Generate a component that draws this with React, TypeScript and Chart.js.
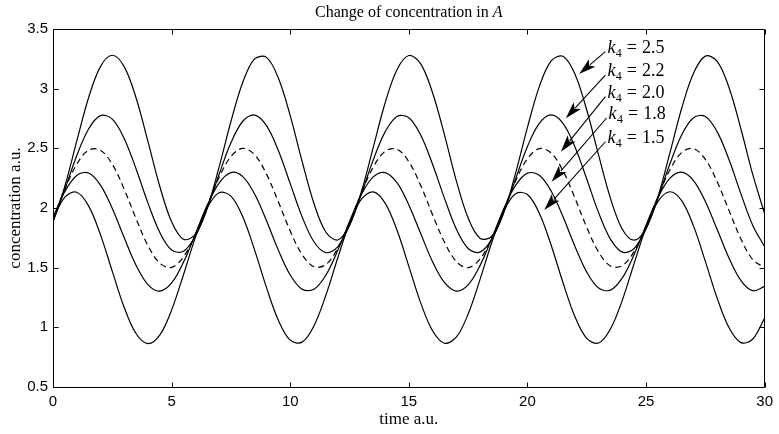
import React, { useEffect, useRef } from "react";
import { Chart, registerables } from "chart.js";

Chart.register(...registerables);

// time axis (a.u.)
const timeAxis = [
  0, 0.5, 1, 1.5, 2, 2.5, 3, 3.5, 4, 4.5, 5, 5.5, 6, 6.5, 7, 7.5, 8, 8.5, 9, 9.5,
  10, 10.5, 11, 11.5, 12, 12.5, 13, 13.5, 14, 14.5, 15, 15.5, 16, 16.5, 17, 17.5, 18, 18.5, 19, 19.5,
  20, 20.5, 21, 21.5, 22, 22.5, 23, 23.5, 24, 24.5, 25, 25.5, 26, 26.5, 27, 27.5, 28, 28.5, 29, 29.5, 30,
];

// concentration in A for each k4
const concK25 = [
  1.884, 2.182, 2.560, 2.924, 3.185, 3.280, 3.185, 2.924, 2.560, 2.182, 1.884, 1.738, 1.779, 1.998, 2.342, 2.725, 3.054, 3.249, 3.262, 3.089,
  2.774, 2.392, 2.038, 1.799, 1.732, 1.855, 2.136, 2.508, 2.880, 3.159, 3.278, 3.208, 2.966, 2.615, 2.230, 1.916, 1.747, 1.763, 1.961, 2.292,
  2.675, 3.017, 3.233, 3.271, 3.122, 2.821, 2.443, 2.081, 1.822, 1.730, 1.828, 2.092, 2.457, 2.834, 3.130, 3.273, 3.228, 3.008, 2.662, 2.279, 1.951,
];
const concK22 = [
  1.886, 2.156, 2.438, 2.662, 2.774, 2.745, 2.583, 2.329, 2.043, 1.796, 1.648, 1.637, 1.763, 1.997, 2.281, 2.546, 2.727, 2.779, 2.690, 2.481,
  2.204, 1.927, 1.717, 1.626, 1.675, 1.854, 2.118, 2.403, 2.638, 2.767, 2.757, 2.612, 2.366, 2.083, 1.824, 1.661, 1.630, 1.739, 1.962, 2.243,
  2.515, 2.709, 2.780, 2.709, 2.514, 2.243, 1.961, 1.739, 1.630, 1.661, 1.824, 2.080, 2.366, 2.612, 2.757, 2.767, 2.638, 2.404, 2.118, 1.854, 1.675,
];
const concK20 = [
  1.911, 2.158, 2.366, 2.485, 2.484, 2.366, 2.158, 1.911, 1.686, 1.538, 1.503, 1.590, 1.777, 2.019, 2.256, 2.431, 2.500, 2.447, 2.284, 2.052,
  1.807, 1.610, 1.508, 1.526, 1.661, 1.879, 2.126, 2.343, 2.475, 2.492, 2.388, 2.189, 1.944, 1.715, 1.552, 1.500, 1.572, 1.748, 1.986, 2.227,
  2.413, 2.498, 2.461, 2.311, 2.085, 1.838, 1.631, 1.514, 1.517, 1.637, 1.847, 2.093, 2.318, 2.464, 2.497, 2.408, 2.219, 1.978, 1.740, 1.567, 1.500,
];
const concK18 = [
  1.921, 2.138, 2.273, 2.293, 2.192, 1.996, 1.752, 1.521, 1.358, 1.304, 1.372, 1.545, 1.781, 2.022, 2.209, 2.297, 2.263, 2.117, 1.893, 1.647,
  1.439, 1.320, 1.319, 1.436, 1.643, 1.888, 2.113, 2.261, 2.297, 2.212, 2.026, 1.786, 1.549, 1.376, 1.304, 1.356, 1.517, 1.748, 1.992, 2.189,
  2.292, 2.275, 2.142, 1.926, 1.679, 1.463, 1.330, 1.312, 1.414, 1.612, 1.856, 2.086, 2.248, 2.300, 2.230, 2.055, 1.819, 1.579, 1.392, 1.307, 1.343,
];
const concK15 = [
  1.905, 2.091, 2.132, 2.018, 1.777, 1.469, 1.168, 0.948, 0.864, 0.935, 1.145, 1.441, 1.752, 2.001, 2.128, 2.100, 1.926, 1.647, 1.333, 1.059,
  0.893, 0.876, 1.012, 1.267, 1.579, 1.872, 2.074, 2.135, 2.041, 1.815, 1.511, 1.205, 0.971, 0.867, 0.917, 1.111, 1.400, 1.713, 1.974, 2.119,
  2.113, 1.956, 1.688, 1.374, 1.090, 0.907, 0.869, 0.986, 1.228, 1.537, 1.837, 2.054, 2.136, 2.062, 1.850, 1.553, 1.243, 0.996, 0.872, 0.902, 1.078,
];

const seriesNames = ["k4 = 2.5", "k4 = 2.2", "k4 = 2.0", "k4 = 1.8", "k4 = 1.5"];
const seriesValues = [concK25, concK22, concK20, concK18, concK15];

const xTickValues = [0, 5, 10, 15, 20, 25, 30];
const yTickValues = [0.5, 1, 1.5, 2, 2.5, 3, 3.5];

// annotation labels (k4 values) and where their arrows point, in data units
const noteK = ["2.5", "2.2", "2.0", "1.8", "1.5"];
const noteX = [23.37, 23.37, 23.37, 23.42, 23.37];
const noteY = [3.352, 3.156, 2.975, 2.796, 2.597];
const arrowTipX = [22.18, 21.62, 21.41, 21.02, 20.71];
const arrowTipY = [3.123, 2.752, 2.472, 2.22, 1.983];

const SERIF = '"Liberation Serif", "Times New Roman", serif';
const SANS = '"Liberation Sans", Arial, sans-serif';

function drawArrow(ctx: CanvasRenderingContext2D, tx: number, ty: number, hx: number, hy: number) {
  const dx = hx - tx;
  const dy = hy - ty;
  const len = Math.sqrt(dx * dx + dy * dy);
  const ux = dx / len;
  const uy = dy / len;
  const headLen = 17;
  const halfW = 5;
  const bx = hx - ux * headLen;
  const by = hy - uy * headLen;
  ctx.beginPath();
  ctx.moveTo(tx, ty);
  ctx.lineTo(bx + ux * 3, by + uy * 3);
  ctx.stroke();
  ctx.beginPath();
  ctx.moveTo(hx, hy);
  ctx.lineTo(bx - uy * halfW, by + ux * halfW);
  ctx.lineTo(bx + ux * 4, by + uy * 4);
  ctx.lineTo(bx + uy * halfW, by - ux * halfW);
  ctx.closePath();
  ctx.fill();
}

const decorPlugin = {
  id: "decor",
  afterDatasetsDraw(chart: any) {
    const { ctx } = chart;
    const xs = chart.scales.x;
    const ys = chart.scales.y;
    ctx.save();
    ctx.fillStyle = "#000";
    ctx.strokeStyle = "#000";
    ctx.lineWidth = 1.1;
    ctx.textAlign = "left";
    ctx.textBaseline = "alphabetic";
    for (let i = 0; i < noteK.length; i++) {
      const lx = xs.getPixelForValue(noteX[i]);
      const ly = ys.getPixelForValue(noteY[i]);
      const base = ly + 6;
      ctx.font = `italic 18px ${SERIF}`;
      ctx.fillText("k", lx, base);
      let cx = lx + ctx.measureText("k").width + 0.5;
      ctx.font = `12px ${SERIF}`;
      ctx.fillText("4", cx, base + 4);
      cx += ctx.measureText("4").width + 5;
      ctx.font = `18px ${SERIF}`;
      ctx.fillText("=", cx, base);
      cx += ctx.measureText("=").width + 5;
      ctx.fillText(noteK[i], cx, base);
      const hx = xs.getPixelForValue(arrowTipX[i]);
      const hy = ys.getPixelForValue(arrowTipY[i]);
      drawArrow(ctx, lx - 2, ly + 5, hx, hy);
    }
    ctx.restore();
  },
  afterDraw(chart: any) {
    const { ctx, chartArea } = chart;
    const { left, right, top, bottom } = chartArea;
    const xs = chart.scales.x;
    const ys = chart.scales.y;
    ctx.save();
    ctx.strokeStyle = "#000";
    ctx.lineWidth = 1;
    const L = Math.round(left) + 0.5;
    const R = Math.round(right) - 0.5;
    const T = Math.round(top) + 0.5;
    const B = Math.round(bottom) + 0.5;
    ctx.beginPath();
    ctx.rect(L, T, R - L, B - T);
    ctx.stroke();
    const tl = 5;
    ctx.beginPath();
    xTickValues.forEach((v) => {
      const px = Math.round(xs.getPixelForValue(v)) + 0.5;
      ctx.moveTo(px, B);
      ctx.lineTo(px, B - tl);
      ctx.moveTo(px, T);
      ctx.lineTo(px, T + tl);
    });
    yTickValues.forEach((v) => {
      const py = Math.round(ys.getPixelForValue(v)) + 0.5;
      ctx.moveTo(L, py);
      ctx.lineTo(L + tl, py);
      ctx.moveTo(R, py);
      ctx.lineTo(R - tl, py);
    });
    ctx.stroke();

    // title with italic A
    const main = "Change of concentration in ";
    ctx.fillStyle = "#000";
    ctx.textBaseline = "alphabetic";
    ctx.textAlign = "left";
    ctx.font = `16px ${SERIF}`;
    const w1 = ctx.measureText(main).width;
    ctx.font = `italic 16px ${SERIF}`;
    const w2 = ctx.measureText("A").width;
    const start = (left + right) / 2 - (w1 + w2) / 2;
    ctx.font = `16px ${SERIF}`;
    ctx.fillText(main, start, 17);
    ctx.font = `italic 16px ${SERIF}`;
    ctx.fillText("A", start + w1, 17);
    ctx.restore();
  },
};

export default function App() {
  const ref = useRef<HTMLCanvasElement>(null);
  useEffect(() => {
    const canvas = ref.current;
    if (!canvas) return;
    const chart = new Chart(canvas, {
      type: "line",
      data: {
        datasets: seriesValues.map((vals, i) => ({
          label: seriesNames[i],
          data: timeAxis.map((t, j) => ({ x: t, y: vals[j] })),
          borderColor: "#000",
          backgroundColor: "#000",
          borderWidth: 1.2,
          borderDash: i === 2 ? [6, 4] : [],
          pointRadius: 0,
          tension: 0.35,
          fill: false,
        })),
      },
      options: {
        animation: false,
        responsive: false,
        devicePixelRatio: 1,
        layout: { padding: { top: 29, right: 11, left: 0, bottom: 0 } },
        plugins: {
          legend: { display: false },
          title: { display: false },
          tooltip: { enabled: false },
        },
        scales: {
          x: {
            type: "linear",
            min: 0,
            max: 30,
            afterFit: (s: any) => {
              s.height = 47;
            },
            grid: { display: false, drawTicks: false },
            border: { display: false },
            ticks: {
              stepSize: 5,
              color: "#000",
              font: { family: SANS, size: 15 },
              padding: 6,
              maxRotation: 0,
              autoSkip: false,
              callback: (v: any) => String(v),
            },
            title: {
              display: true,
              text: "time a.u.",
              color: "#000",
              font: { family: SERIF, size: 17 },
              padding: { top: 0, bottom: 4.4 },
            },
          },
          y: {
            type: "linear",
            min: 0.5,
            max: 3.5,
            afterFit: (s: any) => {
              s.width = 53;
            },
            grid: { display: false, drawTicks: false },
            border: { display: false },
            ticks: {
              stepSize: 0.5,
              color: "#000",
              font: { family: SANS, size: 15 },
              padding: 5,
              callback: (v: any) => String(v),
            },
            title: {
              display: true,
              text: "concentration a.u.",
              color: "#000",
              font: { family: SERIF, size: 17 },
              padding: { top: 5.4, bottom: 0 },
            },
          },
        },
      } as any,
      plugins: [decorPlugin],
    });
    return () => chart.destroy();
  }, []);
  return (
    <div style={{ position: "fixed", left: 0, top: 0, width: 779, height: 434, background: "#fff" }}>
      <canvas ref={ref} width={779} height={434} style={{ display: "block", width: 779, height: 434 }} />
    </div>
  );
}
